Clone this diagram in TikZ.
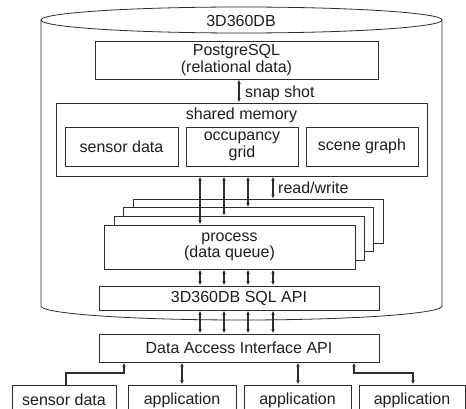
\documentclass[tikz,border=0pt]{standalone}
\usepackage{fontspec}
\setmainfont{Liberation Sans}
\usetikzlibrary{arrows.meta}

\begin{document}
\begin{tikzpicture}[x=1pt,y=-1pt,
	box/.style={draw=linegray,line width=0.8pt,fill=white,inner sep=0pt,align=center,
		font=\fontsize{16}{16.5}\selectfont,text=textgray},
	lbl/.style={inner sep=0pt,align=center,font=\fontsize{16}{16.5}\selectfont,text=textgray},
	link/.style={line width=1.3pt,draw=linegray,{Latex[length=4.5pt,width=3.6pt]}-{Latex[length=4.5pt,width=3.6pt]}},
	uplink/.style={line width=1.1pt,draw=linegray,-{Latex[length=4.5pt,width=3.6pt]}}]
	\definecolor{linegray}{RGB}{45,45,45}
	\definecolor{textgray}{RGB}{30,30,30}

	\useasboundingbox (0,0) rectangle (466,409);
	\fill[white] (0,0) rectangle (466,409);

	\draw[linegray,line width=0.8pt] (41,20) -- (41,306) arc[start angle=180,end angle=360,x radius=200.5pt,y radius=14pt] -- (442,20);
	\draw[linegray,line width=0.8pt] (241.5,20) ellipse [x radius=200.5pt,y radius=13pt];
	\node[lbl] (db) at (241,21) {3D360DB};

	\node[box,minimum width=283pt,minimum height=38pt] (pg) at (236.5,60) {PostgreSQL\\(relational data)};
	\node[box,minimum width=371pt,minimum height=73pt] (shm) at (241.5,139.5) {};
	\node[lbl] (shmlabel) at (241.5,115) {shared memory};
	\node[box,minimum width=113pt,minimum height=39pt] (sensor) at (121.5,146.5) {sensor data};
	\node[box,minimum width=112pt,minimum height=39pt] (grid) at (242,146.5) {occupancy\\grid};
	\node[box,minimum width=112pt,minimum height=39pt] (scene) at (362,146.5) {scene graph};

	\foreach \i in {3,2,1}
		\node[box,minimum width=250pt,minimum height=44pt] (p\i) at (229.5+9.5*\i,247-8.6*\i) {};
	\node[box,minimum width=251pt,minimum height=44pt] (proc) at (229.5,247) {process\\(data queue)};

	\node[box,minimum width=280pt,minimum height=24pt] (sql) at (239,298) {3D360DB SQL API};
	\node[box,minimum width=280pt,minimum height=28pt] (dai) at (239,348) {Data Access Interface API};

	\node[box,minimum width=104pt,minimum height=30pt] (src) at (64,400) {sensor data};
	\node[box,minimum width=108pt,minimum height=30pt] (appa) at (182,400) {application};
	\node[box,minimum width=107pt,minimum height=30pt] (appb) at (297.5,400) {application};
	\node[box,minimum width=106pt,minimum height=30pt] (appc) at (412,400) {application};

	\coordinate (c1) at (200,0);
	\coordinate (c2) at (224,0);
	\coordinate (c3) at (248,0);
	\coordinate (c4) at (273,0);
	\coordinate (snap) at (239,0);

	\draw[link] (snap |- pg.south) -- (snap |- shm.north);
	\node[lbl,anchor=west] (snaplabel) at (245,93) {snap shot};

	\draw[link] (c1 |- shm.south) -- (c1 |- proc.north);
	\draw[link] (c2 |- shm.south) -- (c2 |- p1.north);
	\draw[link] (c3 |- shm.south) -- (c3 |- p2.north);
	\draw[link] (c4 |- shm.south) -- (c4 |- p3.north);
	\node[lbl,anchor=west] (rwlabel) at (278,188) {read/write};

	\foreach \c in {c1,c2,c3,c4} {
		\draw[link] (\c |- proc.south) -- (\c |- sql.north);
		\draw[link] (\c |- sql.south) -- (\c |- dai.north);
	}

	\draw[uplink] (src.north -| 66,0) |- (124,373) -- (124,0 |- dai.south);
	\draw[link] (appa.north) -- (appa.north |- dai.south);
	\draw[link] (298,0 |- appb.north) -- (298,0 |- dai.south);
	\draw[link] (354,0 |- dai.south) |- (413,373) -- (413,0 |- appc.north);
\end{tikzpicture}
\end{document}
